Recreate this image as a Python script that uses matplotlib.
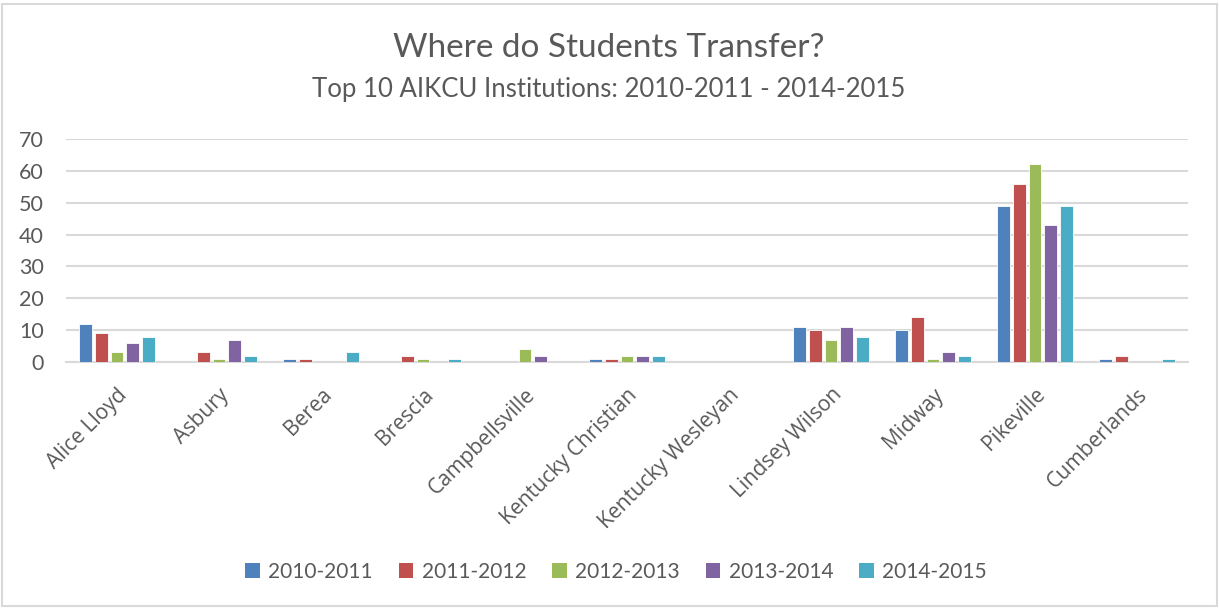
import matplotlib
matplotlib.use("Agg")
import matplotlib.pyplot as plt
import numpy as np
from matplotlib.patches import Rectangle, Patch

plt.rcParams['font.family'] = ['Lato', 'DejaVu Sans']

categories = ["Alice Lloyd", "Asbury", "Berea", "Brescia", "Campbellsville",
              "Kentucky Christian", "Kentucky Wesleyan", "Lindsey Wilson",
              "Midway", "Pikeville", "Cumberlands"]
series_names = ["2010-2011", "2011-2012", "2012-2013", "2013-2014", "2014-2015"]
v2010 = [12, 0, 1, 0, 0, 1, 0, 11, 10, 49, 1]
v2011 = [9, 3, 1, 2, 0, 1, 0, 10, 14, 56, 2]
v2012 = [3, 1, 0, 1, 4, 2, 0, 7, 1, 62, 0]
v2013 = [6, 7, 0, 0, 2, 2, 0, 11, 3, 43, 0]
v2014 = [8, 2, 3, 1, 0, 2, 0, 8, 2, 49, 1]
series = [v2010, v2011, v2012, v2013, v2014]
colors = ["#4F81BD", "#C0504D", "#9BBB59", "#8064A2", "#4BACC6"]
yticks = [0, 10, 20, 30, 40, 50, 60, 70]

W, H = 1219, 608
fig = plt.figure(figsize=(W/100, H/100), dpi=100)
ax = fig.add_axes([66/W, 1-362/H, 1122/W, 223/H])

x = np.arange(len(categories))
step = 0.153
bw = 0.125
for i, (vals, c, name) in enumerate(zip(series, colors, series_names)):
    ax.bar(x + (i-2)*step, vals, width=bw, color=c, label=name,
           edgecolor='white', linewidth=0.6, zorder=3)

ax.set_xlim(-0.5, len(categories)-0.5)
ax.set_ylim(0, 70)
ax.set_yticks(yticks)
ax.set_yticklabels([str(t) for t in yticks], fontsize=15.5, color='#595959')
ax.yaxis.grid(True, color='#D9D9D9', linewidth=1.5, zorder=0)
ax.set_axisbelow(True)
for s in ['top', 'right', 'left']:
    ax.spines[s].set_visible(False)
ax.spines['bottom'].set_color('#D9D9D9')
ax.spines['bottom'].set_linewidth(1.5)
ax.tick_params(axis='y', length=0, pad=16)
ax.tick_params(axis='x', length=0, pad=16)
ax.set_xticks(x)
ax.set_xticklabels(categories, rotation=45, ha='right', rotation_mode='anchor',
                   fontsize=15.2, color='#595959', family=['Open Sans', 'DejaVu Sans'])

fig.text(609/W, 1-48/H, "Where do Students Transfer?", ha='center', va='center',
         fontsize=24, color='#595959')
fig.text(609/W, 1-89/H, "Top 10 AIKCU Institutions: 2010-2011 - 2014-2015",
         ha='center', va='center', fontsize=18.5, color='#595959')

handles = [Patch(facecolor=c, edgecolor='none') for c in colors]
fig.legend(handles, series_names, loc='center', bbox_to_anchor=(616/W, 1-572/H),
           ncol=5, frameon=False, fontsize=15, handlelength=0.7, handleheight=0.7,
           handletextpad=0.4, columnspacing=1.25, labelcolor='#595959')

fig.add_artist(Rectangle((2/W, 2/H), 1215/W, 602/H, transform=fig.transFigure,
                         fill=False, edgecolor='#D9D9D9', linewidth=1.5))

fig.savefig("out.png", dpi=100, facecolor='white')
